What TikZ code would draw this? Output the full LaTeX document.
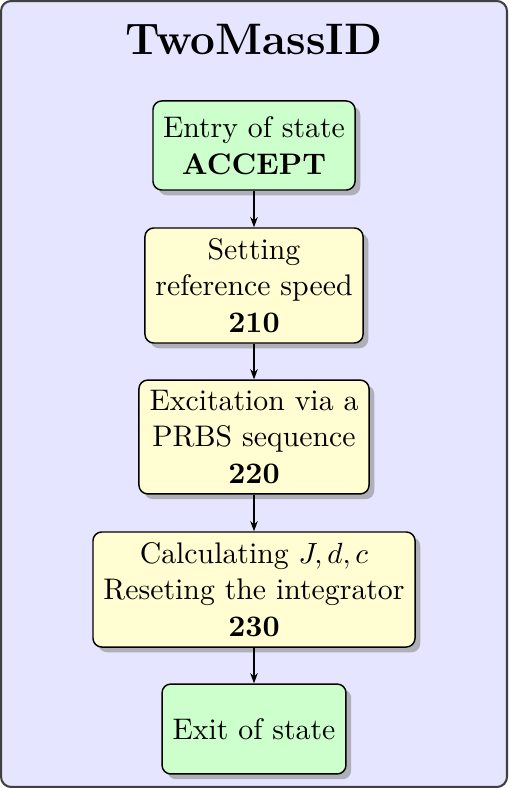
\documentclass[tikz,border=0pt]{standalone}
\usetikzlibrary{shadows,arrows.meta}
\begin{document}
\begin{tikzpicture}[x={(0.34252pt,0)},y={(0,-0.34252pt)},
  box/.style={draw=black, rounded corners=3pt, drop shadow={fill=black!45, opacity=0.6, shadow xshift=1.8pt, shadow yshift=-1.8pt}, align=center, inner sep=0pt, line width=0.5pt, font=\fontsize{10.2}{12.5}\selectfont},
  term/.style={box, fill=green!20},
  proc/.style={box, fill=yellow!18},
  flow/.style={-{Stealth[length=3.5pt,width=2.6pt]}, line width=0.4pt}]
\useasboundingbox (0,0) rectangle (508,788);
\path[fill=blue!10, draw=black!75, line width=0.7pt, rounded corners=3.5pt] (1,1) rectangle (507,787);
\node[font=\fontsize{15.1}{18}\selectfont\bfseries] (title) at (254,40) {TwoMassID};
\node[term, minimum width=69.2pt, minimum height=30.5pt] (entry) at (254,145.5) {Entry of state\\\textbf{ACCEPT}};
\node[proc, minimum width=74.7pt, minimum height=39.4pt] (s210) at (254,285.5) {Setting\\reference speed\\\textbf{210}};
\node[proc, minimum width=78.8pt, minimum height=39pt] (s220) at (254,437) {Excitation via a\\PRBS sequence\\\textbf{220}};
\node[proc, minimum width=110.3pt, minimum height=39.4pt] (s230) at (254,589.5) {Calculating $J, d, c$\\Reseting the integrator\\\textbf{230}};
\node[term, minimum width=63pt, minimum height=30.8pt] (exit) at (254,729) {Exit of state};
\draw[flow] (entry) -- (s210);
\draw[flow] (s210) -- (s220);
\draw[flow] (s220) -- (s230);
\draw[flow] (s230) -- (exit);
\end{tikzpicture}
\end{document}
